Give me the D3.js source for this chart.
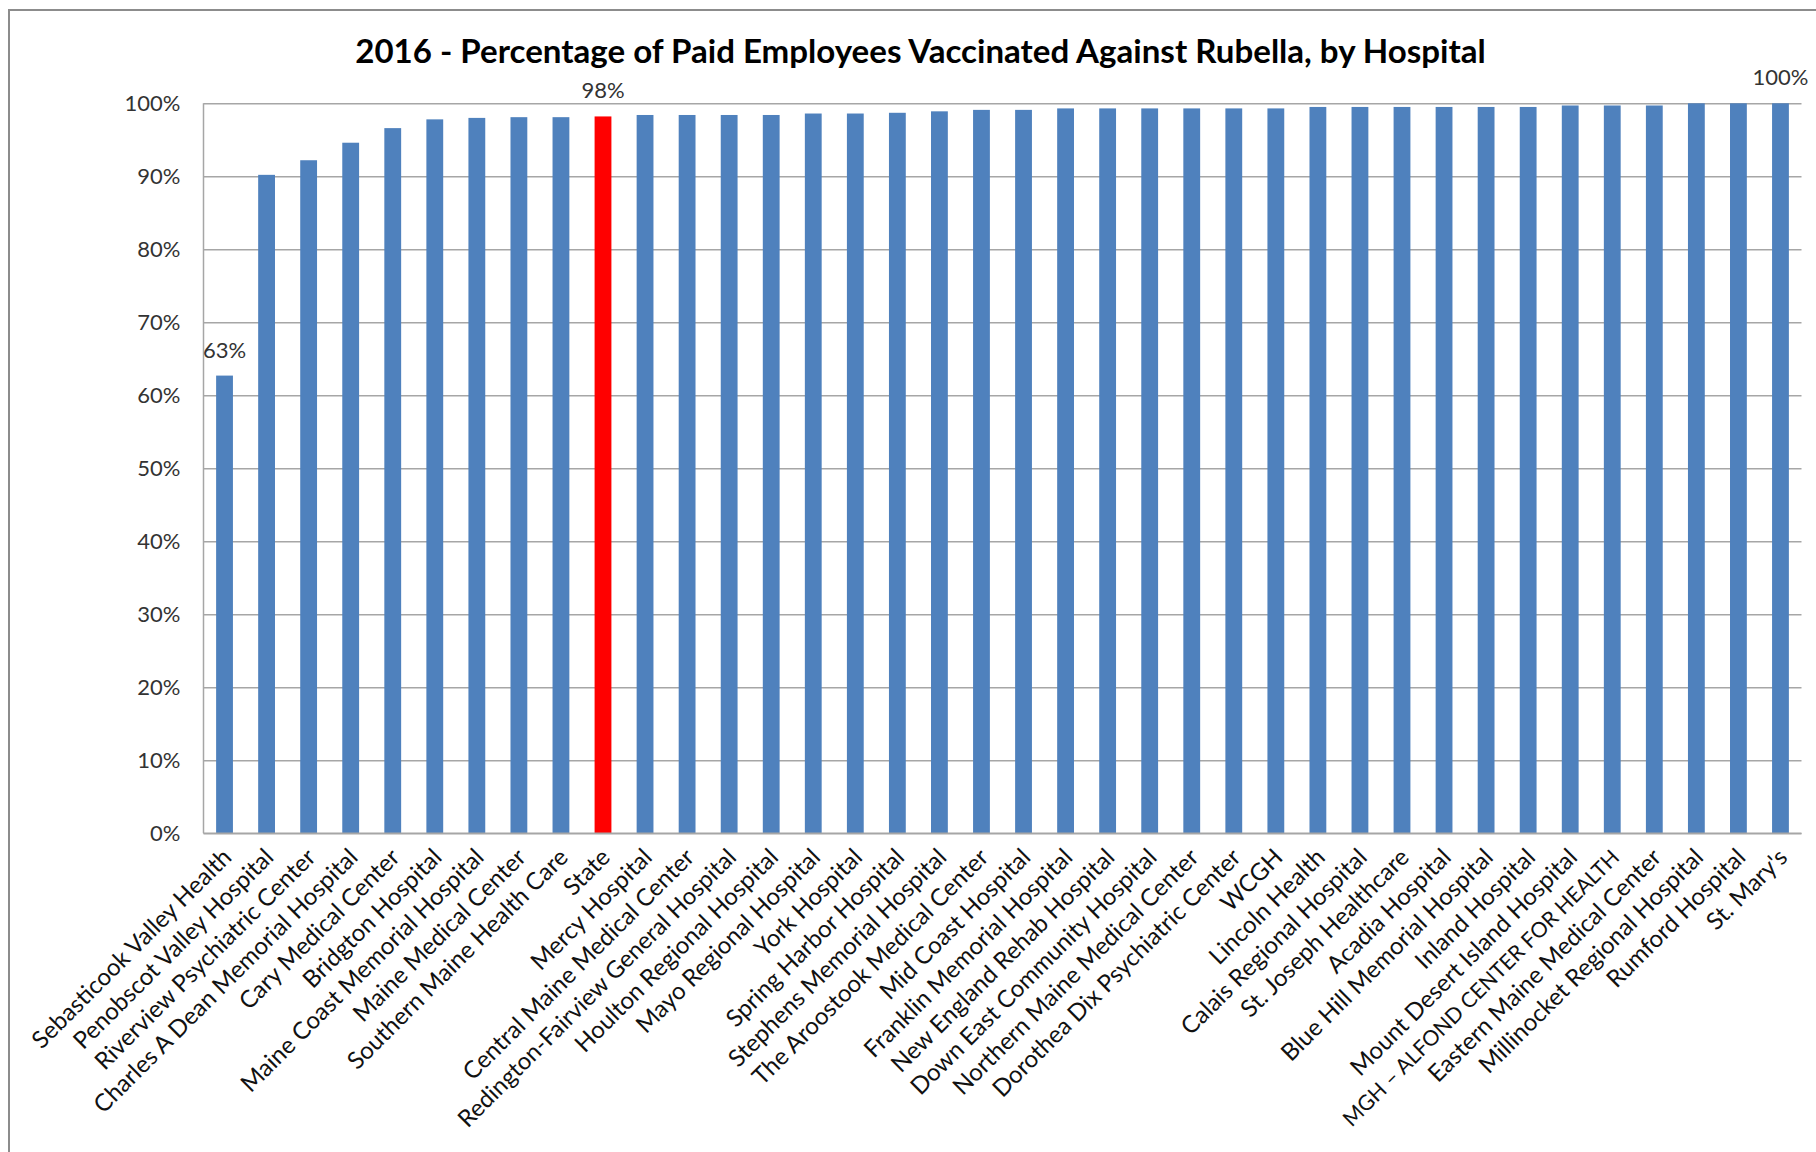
<!DOCTYPE html>
<html>
<head>
<meta charset="utf-8">
<script src="https://cdn.jsdelivr.net/npm/d3@7/dist/d3.min.js"></script>
<style>
  html, body { margin: 0; padding: 0; background: #fff; }
  svg { display: block; }
  text { font-family: Lato, "Open Sans", "DejaVu Sans", sans-serif; }
</style>
</head>
<body>
<svg id="chart" width="1816" height="1152"></svg>
<script>
const titleText = "2016 - Percentage of Paid Employees Vaccinated Against Rubella, by Hospital";

const categories = [
  "Sebasticook Valley Health", "Penobscot Valley Hospital", "Riverview Psychiatric Center",
  "Charles A Dean Memorial Hospital", "Cary Medical Center", "Bridgton Hospital",
  "Maine Coast Memorial Hospital", "Maine Medical Center", "Southern Maine Health Care",
  "State", "Mercy Hospital", "Central Maine Medical Center",
  "Redington-Fairview General Hospital", "Houlton Regional Hospital", "Mayo Regional Hospital",
  "York Hospital", "Spring Harbor Hospital", "Stephens Memorial Hospital",
  "The Aroostook Medical Center", "Mid Coast Hospital", "Franklin Memorial Hospital",
  "New England Rehab Hospital", "Down East Community Hospital", "Northern Maine Medical Center",
  "Dorothea Dix Psychiatric Center", "WCGH", "Lincoln Health",
  "Calais Regional Hospital", "St. Joseph Healthcare", "Acadia Hospital",
  "Blue Hill Memorial Hospital", "Inland Hospital", "Mount Desert Island Hospital",
  "MGH \u2013 ALFOND CENTER FOR HEALTH", "Eastern Maine Medical Center", "Millinocket Regional Hospital",
  "Rumford Hospital", "St. Mary's"
];

// percent vaccinated
const values = [
  62.7, 90.2, 92.2, 94.6, 96.6, 97.8,
  98.0, 98.1, 98.1, 98.2, 98.4, 98.4,
  98.4, 98.4, 98.6, 98.6, 98.7, 98.9,
  99.1, 99.1, 99.3, 99.3, 99.3, 99.3,
  99.3, 99.3, 99.5, 99.5, 99.5, 99.5,
  99.5, 99.5, 99.7, 99.7, 99.7, 100,
  100, 100
];

const highlighted = ["State"];
const labeledCategories = ["Sebasticook Valley Health", "State", "St. Mary's"];
const yTickValues = [0, 10, 20, 30, 40, 50, 60, 70, 80, 90, 100];

const data = categories.map((c, i) => ({ name: c, value: values[i] }));

const svg = d3.select("#chart");

// outer chart border (cropped on right / bottom)
svg.append("rect")
  .attr("x", 9).attr("y", 10)
  .attr("width", 1840).attr("height", 1180)
  .attr("fill", "#fff")
  .attr("stroke", "#8c8c8c")
  .attr("stroke-width", 2);

const plot = { left: 203.5, right: 1801.5, top: 103.3, bottom: 833.3 };

const x = d3.scaleBand()
  .domain(categories)
  .range([plot.left, plot.right])
  .paddingInner(0.6)
  .paddingOuter(0.3);

const y = d3.scaleLinear()
  .domain([0, 100])
  .range([plot.bottom, plot.top]);

// y labels via axis
const yAxis = d3.axisLeft(y)
  .tickValues(yTickValues)
  .tickFormat(d => d + "%")
  .tickSize(0)
  .tickPadding(23);

const gy = svg.append("g")
  .attr("transform", `translate(${plot.left},0)`)
  .call(yAxis);
gy.select(".domain").remove();
gy.selectAll("text")
  .attr("font-size", 22)
  .attr("fill", "#333")
  .attr("font-family", "Lato, 'Open Sans', sans-serif");

// gridlines
const grid = d3.axisLeft(y)
  .tickValues(yTickValues)
  .tickSize(-(plot.right - plot.left))
  .tickFormat("");
const gg = svg.append("g")
  .attr("transform", `translate(${plot.left},0)`)
  .call(grid);
gg.select(".domain").remove();
gg.selectAll("line").attr("stroke", "#a6a6a6").attr("stroke-width", 1.5);

// left axis line
svg.append("line")
  .attr("x1", plot.left).attr("x2", plot.left)
  .attr("y1", y(100)).attr("y2", y(0))
  .attr("stroke", "#a6a6a6").attr("stroke-width", 1.5);

// bars
svg.append("g").selectAll("rect")
  .data(data)
  .join("rect")
  .attr("x", d => x(d.name))
  .attr("width", x.bandwidth())
  .attr("y", d => y(d.value))
  .attr("height", d => y(0) - y(d.value))
  .attr("fill", d => highlighted.includes(d.name) ? "#ff0000" : "#4f81bd");

// bottom axis line
svg.append("line")
  .attr("x1", plot.left).attr("x2", plot.right)
  .attr("y1", y(0)).attr("y2", y(0))
  .attr("stroke", "#a6a6a6").attr("stroke-width", 1.5);

// data labels
const fmt = d3.format(".0%");
svg.append("g").selectAll("text")
  .data(data.filter(d => labeledCategories.includes(d.name)))
  .join("text")
  .attr("x", d => x(d.name) + x.bandwidth() / 2)
  .attr("y", d => y(d.value) - 18)
  .attr("text-anchor", "middle")
  .attr("font-size", 22)
  .attr("fill", "#333")
  .text(d => fmt(d.value / 100));

// x category labels
const xAxis = d3.axisBottom(x).tickSize(0).tickPadding(0);
const gx = svg.append("g")
  .attr("transform", `translate(0,${plot.bottom})`)
  .call(xAxis);
gx.select(".domain").remove();
gx.selectAll("text")
  .attr("font-size", 24)
  .attr("fill", "#111")
  .attr("font-family", "Lato, 'Open Sans', sans-serif")
  .attr("text-anchor", "end")
  .attr("y", 0).attr("dy", 0)
  .attr("transform", "translate(0,17) rotate(-45) translate(0,12)");

// keep long labels inside the frame (shrink only those that overflow)
const maxBottom = 1134;
gx.selectAll("text").each(function () {
  const t = d3.select(this);
  let fs = 24;
  let guard = 0;
  while (this.getBoundingClientRect().bottom > maxBottom && guard < 30) {
    fs -= 0.25;
    t.attr("font-size", fs);
    guard++;
  }
});

// title
const title = svg.append("text")
  .attr("x", 920.5)
  .attr("y", 63)
  .attr("text-anchor", "middle")
  .attr("font-weight", "bold")
  .attr("font-size", 26)
  .attr("fill", "#000")
  .text(titleText);
const targetW = 1131;
const w = title.node().getComputedTextLength();
if (w > 0) title.attr("font-size", 26 * targetW / w);
</script>
</body>
</html>
